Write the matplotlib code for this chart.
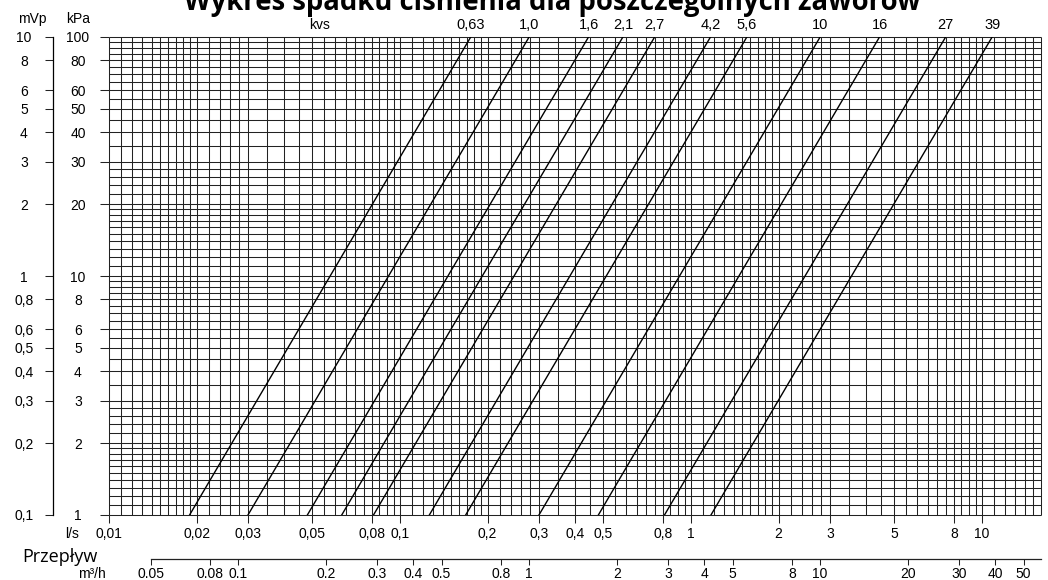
import matplotlib
matplotlib.use('Agg')
import matplotlib.pyplot as plt
from matplotlib.ticker import NullLocator
import numpy as np

plt.rcParams['font.family'] = ['Liberation Sans', 'DejaVu Sans']
plt.rcParams['font.size'] = 10

# zawory - wartosci kvs
kvs = [0.63, 1.0, 1.6, 2.1, 2.7, 4.2, 5.6, 10, 16, 27, 39]
kvs_labels = ['0,63', '1,0', '1,6', '2,1', '2,7', '4,2', '5,6', '10', '16', '27', '39']
wykladnik = 2.07  # nachylenie linii (teoretycznie 2)

# osie
ls_ticks = [0.01, 0.02, 0.03, 0.05, 0.08, 0.1, 0.2, 0.3, 0.4, 0.5, 0.8, 1, 2, 3, 5, 8, 10]
ls_labels = ['0,01', '0,02', '0,03', '0,05', '0,08', '0,1', '0,2', '0,3', '0,4', '0,5',
             '0,8', '1', '2', '3', '5', '8', '10']
m3h_ticks = [0.05, 0.08, 0.1, 0.2, 0.3, 0.4, 0.5, 0.8, 1, 2, 3, 4, 5, 8, 10, 20, 30, 40, 50]
m3h_labels = ['0.05', '0.08', '0.1', '0.2', '0.3', '0.4', '0.5', '0.8', '1', '2', '3', '4',
              '5', '8', '10', '20', '30', '40', '50']
kpa_ticks = [1, 2, 3, 4, 5, 6, 8, 10, 20, 30, 40, 50, 60, 80, 100]
kpa_labels = ['1', '2', '3', '4', '5', '6', '8', '10', '20', '30', '40', '50', '60', '80', '100']
mvp_ticks = [0.1, 0.2, 0.3, 0.4, 0.5, 0.6, 0.8, 1, 2, 3, 4, 5, 6, 8, 10]
mvp_labels = ['0,1', '0,2', '0,3', '0,4', '0,5', '0,6', '0,8', '1', '2', '3', '4', '5',
              '6', '8', '10']

q_min, q_max = 0.01, 16     # l/s
dp_min, dp_max = 1, 100     # kPa

W, H = 1048, 580
PX = 0.72  # 1 px w punktach


def siatka(d0, d1, koniec):
    kroki = np.concatenate([np.arange(1, 2, 0.1), np.arange(2, 3, 0.2), np.arange(3, 10, 0.5)])
    pos = []
    for d in 10.0 ** np.arange(d0, d1):
        for m in kroki:
            if m * d < koniec * 0.9999:
                pos.append(m * d)
    pos.append(koniec)
    return pos


fig = plt.figure(figsize=(W / 100, H / 100), dpi=100)
ax = fig.add_axes([109 / W, 1 - 515 / H, 932.4 / W, 478 / H])
ax.set_xscale('log')
ax.set_yscale('log')
ax.set_xlim(q_min, q_max)
ax.set_ylim(dp_min, dp_max)
for s in ax.spines.values():
    s.set_visible(False)

kolor = '#222222'
ax.vlines(siatka(-2, 2, q_max), dp_min, dp_max, color=kolor, lw=0.75, clip_on=False)
ax.hlines(siatka(0, 2, dp_max), q_min, q_max, color=kolor, lw=0.75, clip_on=False)

# linie zaworow: dp = 100 kPa przy Q = kvs m3/h
for k, lab in zip(kvs, kvs_labels):
    q_top = k / 3.6
    q_bot = k * (dp_min / 100) ** (1 / wykladnik) / 3.6
    ax.plot([q_bot, q_top], [dp_min, dp_max], color='black', lw=1.0)
    ax.text(q_top, 1.12 * dp_max, lab, ha='center', va='center', fontsize=10.5)
ax.text(0.053, 1.12 * dp_max, 'kvs', ha='center', va='center', fontsize=10)

ax.xaxis.set_minor_locator(NullLocator())
ax.yaxis.set_minor_locator(NullLocator())
ax.set_xticks(ls_ticks)
ax.set_xticklabels(ls_labels)
ax.set_yticks(kpa_ticks)
ax.set_yticklabels(kpa_labels, ha='center')
ax.tick_params(axis='x', length=8 * PX, width=0.75, color=kolor, pad=4 * PX)
ax.tick_params(axis='y', length=9 * PX, width=0.75, color=kolor, pad=22 * PX)

# os mVp
ax2 = ax.secondary_yaxis((53 - 109) / 932.4, functions=(lambda y: y / 10, lambda y: y * 10))
ax2.yaxis.set_minor_locator(NullLocator())
ax2.set_yticks(mvp_ticks)
ax2.set_yticklabels(mvp_labels, ha='center')
ax2.tick_params(axis='y', length=8 * PX, width=0.75, color=kolor, pad=21 * PX)
ax2.spines['left'].set_linewidth(0.9)

# os m3/h
ax3 = fig.add_axes([109 / W, 1 - 559 / H, 932.4 / W, 0])
ax3.set_xscale('log')
ax3.set_xlim(q_min * 3.6, q_max * 3.6)
for n in ['top', 'left', 'right']:
    ax3.spines[n].set_visible(False)
ax3.spines['bottom'].set_bounds(0.05, q_max * 3.6)
ax3.spines['bottom'].set_linewidth(0.9)
ax3.spines['bottom'].set_color(kolor)
ax3.set_yticks([])
ax3.xaxis.set_minor_locator(NullLocator())
ax3.set_xticks(m3h_ticks)
ax3.set_xticklabels(m3h_labels)
ax3.tick_params(axis='x', length=6 * PX, width=0.75, color=kolor, pad=2 * PX)

# opisy
fig.text(32 / W, 1 - 19 / H, 'mVp', ha='center', va='center')
fig.text(78 / W, 1 - 19 / H, 'kPa', ha='center', va='center')
fig.text(72 / W, 1 - 527 / H, 'l/s', ha='center', va='top')
fig.text(92 / W, 1 - 567 / H, 'm³/h', ha='center', va='top')
fig.text(22 / W, 1 - 562 / H, 'Przepływ', ha='left', va='baseline', fontsize=13,
         family=['Open Sans', 'DejaVu Sans'])
fig.text(552 / W, 1 - 10 / H, 'Wykres spadku ciśnienia dla poszczególnych zaworów',
         ha='center', va='baseline', fontsize=19.8, fontweight='bold',
         family=['Open Sans', 'DejaVu Sans'])

fig.savefig('out.png', dpi=100)
